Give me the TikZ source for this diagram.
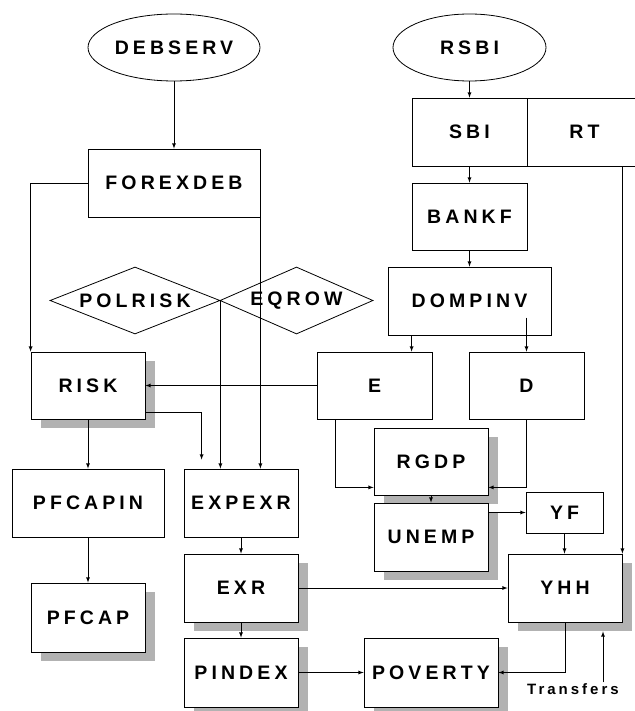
\documentclass[tikz,border=0pt]{standalone}
\usepackage{fontspec}
\setmainfont{Liberation Sans}
\newfontfamily\boxfont[LetterSpace=21]{Liberation Sans Bold}
\newfontfamily\notefont[LetterSpace=20]{Liberation Sans Bold}
\usetikzlibrary{shapes,arrows,positioning,shadows}

\tikzset{
  blk/.style={draw, rectangle, fill=white, text=black, font=\boxfont\fontsize{19.5}{22}\selectfont, inner sep=0pt, line width=0.8pt},
  shd/.style={blk, general shadow={fill=gray!60, draw=none, shadow xshift=10pt, shadow yshift=-9pt}},
  ovl/.style={blk, ellipse},
  dmd/.style={blk, diamond, shape aspect=2.5, fill=none},
  lnk/.style={->, line width=0.8pt, >=latex},
}

\begin{document}
\begin{tikzpicture}
\useasboundingbox (0pt,0pt) rectangle (634pt,-711pt);
\node[ovl, minimum width=172pt, minimum height=67pt, xshift=174pt, yshift=-47.5pt] (DEBSERV) {DEBSERV};
\node[ovl, minimum width=153pt, minimum height=67pt, xshift=469.5pt, yshift=-47.5pt] (RSBI) {RSBI};
\node[blk, minimum width=172pt, minimum height=68pt, xshift=174pt, yshift=-183pt] (FOREXDEB) {FOREXDEB};
\node[blk, minimum width=115pt, minimum height=68pt, xshift=469.5pt, yshift=-132pt] (SBI) {SBI};
\node[blk, minimum width=115pt, minimum height=68pt, xshift=584.5pt, yshift=-132pt] (RT) {RT};
\node[blk, minimum width=115pt, minimum height=67pt, xshift=469.5pt, yshift=-216.5pt] (BANKF) {BANKF};
\node[blk, minimum width=163pt, minimum height=68pt, xshift=469.5pt, yshift=-301pt] (DOMPINV) {DOMPINV};
\node[dmd, minimum width=170pt, minimum height=67pt, xshift=135pt, yshift=-300.5pt] (POLRISK) {POLRISK};
\node[dmd, minimum width=153pt, minimum height=67pt, xshift=296.5pt, yshift=-300.5pt] (EQROW) {EQROW};
%============
\node[shd, minimum width=114pt, minimum height=67pt, xshift=88pt, yshift=-385.5pt] (RISK) {RISK};
\node[blk, minimum width=115pt, minimum height=67pt, xshift=374.5pt, yshift=-385.5pt] (E) {E};
\node[blk, minimum width=115pt, minimum height=67pt, xshift=526.5pt, yshift=-385.5pt] (D) {D};
\node[shd, minimum width=114pt, minimum height=67pt, xshift=431pt, yshift=-461.5pt] (RGDP) {RGDP};
\node[blk, minimum width=152pt, minimum height=68pt, xshift=88pt, yshift=-503pt] (PFCAPIN) {PFCAPIN};
\node[blk, minimum width=114pt, minimum height=68pt, xshift=241pt, yshift=-503pt] (EXPEXR) {EXPEXR};
\node[shd, minimum width=114pt, minimum height=68pt, xshift=431pt, yshift=-537pt] (UNEMP) {UNEMP};
\node[blk, minimum width=77pt, minimum height=41pt, xshift=564.5pt, yshift=-512.5pt] (YF) {YF};
\node[shd, minimum width=114pt, minimum height=69pt, xshift=88pt, yshift=-617.5pt] (PFCAP) {PFCAP};
\node[shd, minimum width=114pt, minimum height=68pt, xshift=241pt, yshift=-588pt] (EXR) {EXR};
\node[shd, minimum width=114pt, minimum height=68pt, xshift=565pt, yshift=-588pt] (YHH) {YHH};
\node[shd, minimum width=114pt, minimum height=69pt, xshift=241pt, yshift=-672.5pt] (PINDEX) {PINDEX};
\node[shd, minimum width=134pt, minimum height=69pt, xshift=431pt, yshift=-672.5pt] (POVERTY) {POVERTY};
\node[font=\notefont\fontsize{15}{17}\selectfont, inner sep=1pt, xshift=573pt, yshift=-689pt] (Transfers) {Transfers};
\coordinate (YHHin) at ([xshift=38pt, yshift=-9pt]YHH.south);
%==========

\draw[lnk] (DEBSERV) -- (FOREXDEB);
\draw[lnk] (FOREXDEB.west) -| (RISK.north west);
\draw[lnk] (FOREXDEB.south east) -- (FOREXDEB.south east |- EXPEXR.north);
\draw[lnk] (POLRISK.east) -- (POLRISK.east |- EXPEXR.north);
\draw[lnk] (RSBI) -- (SBI);
\draw[lnk] (SBI) -- (BANKF);
\draw[lnk] (BANKF) -- (DOMPINV);
\draw[lnk] ([xshift=24pt]DOMPINV.south west) -- ([xshift=24pt]DOMPINV.south west |- E.north);
\draw[lnk] ([yshift=34pt]D.north) -- (D.north);
\draw[lnk] (YHH.north east |- RT.south) -- (YHH.north east);

\draw[lnk] (E.west) -- (RISK.east);
\draw[lnk, shorten >=9pt] ([yshift=7pt]RISK.south east) -| ([xshift=18pt]EXPEXR.north west);
\draw[lnk] (RISK) -- (PFCAPIN);
\draw[lnk] (PFCAPIN) -- (PFCAP);
\draw[lnk] (EXPEXR) -- (EXR);
\draw[lnk] (EXR) -- (PINDEX);
\draw[lnk] ([xshift=19pt]E.south west) |- ([yshift=8pt]RGDP.south west);
\draw[lnk] (D.south) |- ([yshift=8pt]RGDP.south east);
\draw[lnk] (RGDP) -- (UNEMP);
\draw[lnk] (UNEMP.east |- YF.west) -- (YF.west);
\draw[lnk] (YF.south) -- (YF.south |- YHH.north);
\draw[lnk] (EXR.east) -- (EXR.east -| YHH.west);
\draw[lnk] (PINDEX.east) -- (POVERTY.west);
\draw[lnk] (YHH.south) |- (POVERTY.east);
\draw[lnk] (YHHin |- Transfers.north) -- (YHHin);

\end{tikzpicture}
\end{document}
